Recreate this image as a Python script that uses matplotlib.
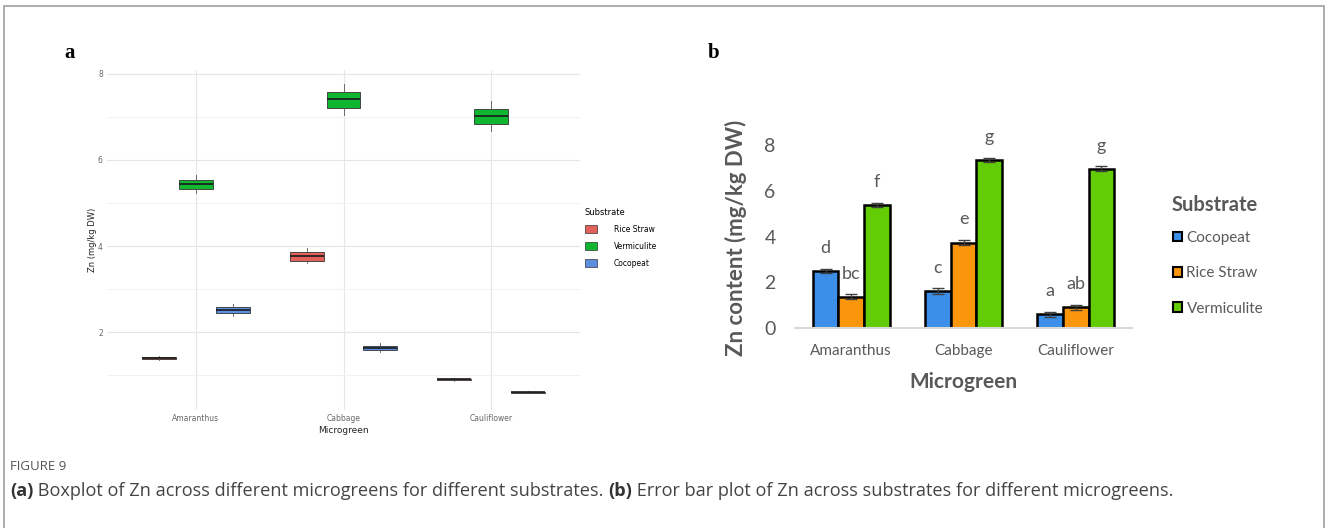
import numpy as np
import matplotlib
matplotlib.use("Agg")
import matplotlib.pyplot as plt
from matplotlib.patches import Patch, Rectangle

# ---- data ----
microgreens = ["Amaranthus", "Cabbage", "Cauliflower"]

# panel a: boxplot stats (Rice Straw, Vermiculite, Cocopeat)
box_substrates = ["Rice Straw", "Vermiculite", "Cocopeat"]
rice_med = [1.40, 3.77, 0.90]
rice_q1 = [1.38, 3.66, 0.88]
rice_q3 = [1.42, 3.86, 0.92]
rice_lo = [1.36, 3.60, 0.87]
rice_hi = [1.44, 3.95, 0.93]
verm_med = [5.44, 7.41, 7.02]
verm_q1 = [5.33, 7.21, 6.84]
verm_q3 = [5.53, 7.58, 7.19]
verm_lo = [5.23, 7.05, 6.68]
verm_hi = [5.65, 7.77, 7.37]
coco_med = [2.51, 1.63, 0.60]
coco_q1 = [2.44, 1.59, 0.59]
coco_q3 = [2.58, 1.67, 0.61]
coco_lo = [2.37, 1.53, 0.58]
coco_hi = [2.65, 1.74, 0.62]

# panel b: means, errors, letters (Cocopeat, Rice Straw, Vermiculite)
bar_substrates = ["Cocopeat", "Rice Straw", "Vermiculite"]
coco_mean = [2.49, 1.61, 0.59]
rice_mean = [1.36, 3.73, 0.90]
verm_mean = [5.38, 7.36, 6.98]
coco_err = [0.10, 0.12, 0.12]
rice_err = [0.11, 0.12, 0.11]
verm_err = [0.10, 0.10, 0.10]
coco_let = ["d", "c", "a"]
rice_let = ["bc", "e", "ab"]
verm_let = ["f", "g", "g"]

W, H = 1328, 528
fig = plt.figure(figsize=(W / 100, H / 100), dpi=100)

# frame around the figure
fig.patches.append(Rectangle((4 / W, -0.05), 1320 / W, 1.05 - 6 / H, transform=fig.transFigure,
                             fill=False, edgecolor="#a6a6a6", linewidth=1.3))

# ---------------- panel a ----------------
axa = fig.add_axes([107 / W, 1 - 410 / H, 473 / W, 340 / H])
box_cols = {"Rice Straw": "#e2625b", "Vermiculite": "#10b530", "Cocopeat": "#5d8fe0"}
box_stats = {
    "Rice Straw": (rice_med, rice_q1, rice_q3, rice_lo, rice_hi),
    "Vermiculite": (verm_med, verm_q1, verm_q3, verm_lo, verm_hi),
    "Cocopeat": (coco_med, coco_q1, coco_q3, coco_lo, coco_hi),
}
x = np.arange(len(microgreens))
for k, sub in enumerate(box_substrates):
    med, q1, q3, lo, hi = box_stats[sub]
    stats = [dict(med=med[i], q1=q1[i], q3=q3[i], whislo=lo[i], whishi=hi[i]) for i in range(len(x))]
    axa.bxp(stats, positions=x + (k - 1) * 0.25, widths=0.23, patch_artist=True,
            showfliers=False, showcaps=False, manage_ticks=False,
            boxprops=dict(facecolor=box_cols[sub], edgecolor="#333333", linewidth=0.6),
            medianprops=dict(color="#1a1a1a", linewidth=1.2),
            whiskerprops=dict(color="#555555", linewidth=0.6))

axa.set_xlim(-0.6, 2.6)
axa.set_ylim(0.19, 8.09)
axa.set_xticks(x)
axa.set_xticklabels(microgreens, fontsize=5.5, color="#666666")
axa.set_yticks([2, 4, 6, 8])
axa.set_yticks([1, 3, 5, 7], minor=True)
axa.tick_params(axis="both", which="both", length=0, labelsize=5.5, labelcolor="#666666", pad=3)
axa.grid(True, which="major", color="#e6e6e6", linewidth=0.8)
axa.grid(True, which="minor", axis="y", color="#f0f0f0", linewidth=0.6)
axa.set_axisbelow(True)
for s in axa.spines.values():
    s.set_visible(False)
axa.set_xlabel("Microgreen", fontsize=6.5, color="#222222", labelpad=2)
axa.set_ylabel("Zn (mg/kg DW)", fontsize=6, color="#222222", labelpad=1)

leg_a = [Patch(facecolor=box_cols[s], edgecolor="#333333", linewidth=0.5, label=s) for s in box_substrates]
fig.legend(handles=leg_a, title="Substrate", loc="upper left", bbox_to_anchor=(578 / W, 1 - 201 / H),
           frameon=False, fontsize=5.5, title_fontsize=6, handlelength=1.6, handleheight=1.2,
           handletextpad=2.2, labelspacing=1.05, alignment="left")

fig.text(64 / W, 1 - 53 / H, "a", fontsize=15, fontweight="bold", family="Liberation Serif", va="center")

# ---------------- panel b ----------------
axb = fig.add_axes([795 / W, 1 - 327.7 / H, 337 / W, 205 / H])
bar_cols = {"Cocopeat": "#3b8fe8", "Rice Straw": "#fa960c", "Vermiculite": "#62cc04"}
bar_data = {
    "Cocopeat": (coco_mean, coco_err, coco_let),
    "Rice Straw": (rice_mean, rice_err, rice_let),
    "Vermiculite": (verm_mean, verm_err, verm_let),
}
bw = 0.228
for k, sub in enumerate(bar_substrates):
    mean, err, let = bar_data[sub]
    pos = x + (k - 1) * bw
    axb.bar(pos, mean, width=bw, color=bar_cols[sub], edgecolor="black", linewidth=1.8, zorder=2)
    axb.errorbar(pos, mean, yerr=err, fmt="none", ecolor="#404040", elinewidth=1, capsize=4,
                 capthick=1, zorder=3)
    for p, m, e, t in zip(pos, mean, err, let):
        axb.text(p, m + e + 0.55, t, ha="center", va="bottom", fontsize=13, color="#595959",
                 family="Lato")

axb.set_xlim(-0.5, 2.5)
axb.set_ylim(0, 9)
axb.set_yticks([0, 2, 4, 6, 8])
axb.set_xticks(x)
axb.set_xticklabels(microgreens, family="Lato", fontsize=11, color="#595959")
axb.tick_params(axis="y", length=0, labelsize=14, labelcolor="#595959", pad=14)
axb.tick_params(axis="x", length=0, pad=12)
for lab in axb.get_yticklabels():
    lab.set_family("Lato")
for n in ["top", "right", "left"]:
    axb.spines[n].set_visible(False)
axb.spines["bottom"].set_color("#d9d9d9")
axb.spines["bottom"].set_linewidth(1.5)
axb.set_xlabel("Microgreen", family="Lato", fontsize=15, fontweight="bold", color="#595959", labelpad=10)
axb.set_ylabel("Zn content (mg/kg DW)", family="Lato", fontsize=16, fontweight="bold", color="#595959")
axb.yaxis.set_label_coords(-0.142, 0.44)

leg_b = [Patch(facecolor=bar_cols[s], edgecolor="black", linewidth=1.5, label=s) for s in bar_substrates]
lb = fig.legend(handles=leg_b, loc="upper left", bbox_to_anchor=(1159 / W, 1 - 217 / H),
                frameon=False, prop=dict(family="Lato", size=11), handlelength=0.6, handleheight=0.6,
                handletextpad=0.3, labelspacing=1.4)
for t in lb.get_texts():
    t.set_color("#595959")
fig.text(1172 / W, 1 - 205 / H, "Substrate", family="Lato", fontsize=14.5, fontweight="bold",
         color="#595959", va="center")

fig.text(708 / W, 1 - 53 / H, "b", fontsize=15, fontweight="bold", family="Liberation Serif", va="center")

# ---------------- caption ----------------
fig.text(10 / W, 1 - 466 / H, "FIGURE 9", fontsize=9.5, color="#555555", family="Open Sans", va="center")
cap = [("(a)", "bold"), (" Boxplot of Zn across different microgreens for different substrates. ", "normal"),
       ("(b)", "bold"), (" Error bar plot of Zn across substrates for different microgreens.", "normal")]
last = fig.text(10 / W, 1 - 496 / H, cap[0][0], fontsize=13.1, fontweight="bold", color="#333333",
                family="Open Sans", va="baseline")
for txt, wt in cap[1:]:
    last = axa.annotate(txt, xy=(1, 0), xycoords=last, va="bottom", ha="left", fontsize=13.1,
                        fontweight=wt, family="Open Sans", annotation_clip=False,
                        color="#333333" if wt == "bold" else "#444444")

fig.savefig("out.png", dpi=100)
